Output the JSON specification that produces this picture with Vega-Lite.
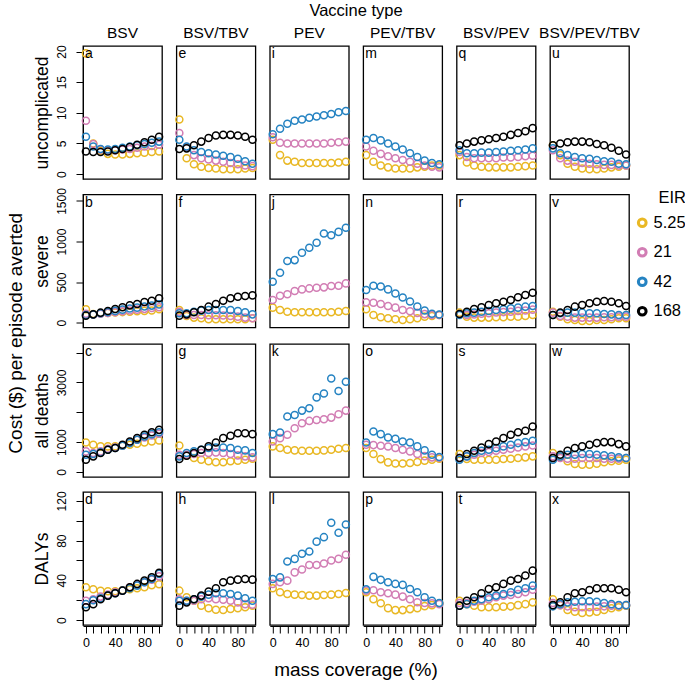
{
"$schema":"https://vega.github.io/schema/vega-lite/v6.json",
"background":"white",
"padding":{"left":6,"top":2,"right":0,"bottom":0},
"title":{"text":"Cost ($) per episode averted","orient":"left","anchor":"middle","fontSize":19,"font":"Liberation Sans","fontWeight":"normal","color":"black","offset":7,"dx":8},
"config":{
 "font":"Liberation Sans",
 "view":{"stroke":"black","strokeWidth":1.3},
 "axis":{"grid":false,"labelFontSize":12,"titleFontSize":17.5,"titleFontWeight":"normal","labelColor":"black","titleColor":"black","tickColor":"black","domainColor":"black","tickSize":7,"labelFont":"Liberation Sans","titleFont":"Liberation Sans","labelOverlap":false,"labelFlush":false},
 "header":{"labelFont":"Liberation Sans","titleFont":"Liberation Sans","labelColor":"black","titleColor":"black"}
},
"datasets":{
"U":[
{"v":1,"t":"a"},{"v":2,"t":"e"},{"v":3,"t":"i"},{"v":4,"t":"m"},{"v":5,"t":"q"},{"v":6,"t":"u"},
{"v":1,"e":5.25,"x":0,"y":19.7},{"v":1,"e":5.25,"x":10,"y":5.0},{"v":1,"e":5.25,"x":20,"y":3.8},{"v":1,"e":5.25,"x":30,"y":3.3},{"v":1,"e":5.25,"x":40,"y":3.2},{"v":1,"e":5.25,"x":50,"y":3.2},{"v":1,"e":5.25,"x":60,"y":3.3},{"v":1,"e":5.25,"x":70,"y":3.4},{"v":1,"e":5.25,"x":80,"y":3.5},{"v":1,"e":5.25,"x":90,"y":3.6},{"v":1,"e":5.25,"x":100,"y":3.7},
{"v":1,"e":21,"x":0,"y":8.7},{"v":1,"e":21,"x":10,"y":4.9},{"v":1,"e":21,"x":20,"y":4.0},{"v":1,"e":21,"x":30,"y":3.9},{"v":1,"e":21,"x":40,"y":3.9},{"v":1,"e":21,"x":50,"y":4.0},{"v":1,"e":21,"x":60,"y":4.1},{"v":1,"e":21,"x":70,"y":4.3},{"v":1,"e":21,"x":80,"y":4.5},{"v":1,"e":21,"x":90,"y":4.6},{"v":1,"e":21,"x":100,"y":4.8},
{"v":1,"e":42,"x":0,"y":6.1},{"v":1,"e":42,"x":10,"y":4.5},{"v":1,"e":42,"x":20,"y":4.1},{"v":1,"e":42,"x":30,"y":4.0},{"v":1,"e":42,"x":40,"y":4.1},{"v":1,"e":42,"x":50,"y":4.3},{"v":1,"e":42,"x":60,"y":4.5},{"v":1,"e":42,"x":70,"y":4.7},{"v":1,"e":42,"x":80,"y":4.9},{"v":1,"e":42,"x":90,"y":5.1},{"v":1,"e":42,"x":100,"y":5.3},
{"v":1,"e":168,"x":0,"y":3.7},{"v":1,"e":168,"x":10,"y":3.6},{"v":1,"e":168,"x":20,"y":3.6},{"v":1,"e":168,"x":30,"y":3.7},{"v":1,"e":168,"x":40,"y":3.9},{"v":1,"e":168,"x":50,"y":4.1},{"v":1,"e":168,"x":60,"y":4.4},{"v":1,"e":168,"x":70,"y":4.8},{"v":1,"e":168,"x":80,"y":5.2},{"v":1,"e":168,"x":90,"y":5.6},{"v":1,"e":168,"x":100,"y":6.1},
{"v":2,"e":5.25,"x":0,"y":8.9},{"v":2,"e":5.25,"x":10,"y":2.6},{"v":2,"e":5.25,"x":20,"y":1.6},{"v":2,"e":5.25,"x":30,"y":1.2},{"v":2,"e":5.25,"x":40,"y":1.0},{"v":2,"e":5.25,"x":50,"y":0.9},{"v":2,"e":5.25,"x":60,"y":0.8},{"v":2,"e":5.25,"x":70,"y":0.8},{"v":2,"e":5.25,"x":80,"y":0.8},{"v":2,"e":5.25,"x":90,"y":0.9},{"v":2,"e":5.25,"x":100,"y":1.0},
{"v":2,"e":21,"x":0,"y":6.7},{"v":2,"e":21,"x":10,"y":4.4},{"v":2,"e":21,"x":20,"y":3.1},{"v":2,"e":21,"x":30,"y":2.6},{"v":2,"e":21,"x":40,"y":2.4},{"v":2,"e":21,"x":50,"y":2.2},{"v":2,"e":21,"x":60,"y":2.0},{"v":2,"e":21,"x":70,"y":1.8},{"v":2,"e":21,"x":80,"y":1.6},{"v":2,"e":21,"x":90,"y":1.4},{"v":2,"e":21,"x":100,"y":1.3},
{"v":2,"e":42,"x":0,"y":5.6},{"v":2,"e":42,"x":10,"y":4.5},{"v":2,"e":42,"x":20,"y":3.9},{"v":2,"e":42,"x":30,"y":3.6},{"v":2,"e":42,"x":40,"y":3.4},{"v":2,"e":42,"x":50,"y":3.2},{"v":2,"e":42,"x":60,"y":3.0},{"v":2,"e":42,"x":70,"y":2.8},{"v":2,"e":42,"x":80,"y":2.5},{"v":2,"e":42,"x":90,"y":2.1},{"v":2,"e":42,"x":100,"y":1.7},
{"v":2,"e":168,"x":0,"y":4.1},{"v":2,"e":168,"x":10,"y":4.2},{"v":2,"e":168,"x":20,"y":4.7},{"v":2,"e":168,"x":30,"y":5.3},{"v":2,"e":168,"x":40,"y":5.9},{"v":2,"e":168,"x":50,"y":6.3},{"v":2,"e":168,"x":60,"y":6.4},{"v":2,"e":168,"x":70,"y":6.4},{"v":2,"e":168,"x":80,"y":6.3},{"v":2,"e":168,"x":90,"y":6.1},{"v":2,"e":168,"x":100,"y":5.6},
{"v":3,"e":5.25,"x":0,"y":5.6},{"v":3,"e":5.25,"x":10,"y":3.1},{"v":3,"e":5.25,"x":20,"y":2.2},{"v":3,"e":5.25,"x":30,"y":2.0},{"v":3,"e":5.25,"x":40,"y":1.8},{"v":3,"e":5.25,"x":50,"y":1.8},{"v":3,"e":5.25,"x":60,"y":1.8},{"v":3,"e":5.25,"x":70,"y":1.8},{"v":3,"e":5.25,"x":80,"y":1.8},{"v":3,"e":5.25,"x":90,"y":1.9},{"v":3,"e":5.25,"x":100,"y":2.0},
{"v":3,"e":21,"x":0,"y":6.0},{"v":3,"e":21,"x":10,"y":5.1},{"v":3,"e":21,"x":20,"y":5.0},{"v":3,"e":21,"x":30,"y":5.0},{"v":3,"e":21,"x":40,"y":5.0},{"v":3,"e":21,"x":50,"y":5.0},{"v":3,"e":21,"x":60,"y":5.0},{"v":3,"e":21,"x":70,"y":5.0},{"v":3,"e":21,"x":80,"y":5.1},{"v":3,"e":21,"x":90,"y":5.2},{"v":3,"e":21,"x":100,"y":5.3},
{"v":3,"e":42,"x":0,"y":6.5},{"v":3,"e":42,"x":10,"y":7.4},{"v":3,"e":42,"x":20,"y":8.2},{"v":3,"e":42,"x":30,"y":8.7},{"v":3,"e":42,"x":40,"y":8.9},{"v":3,"e":42,"x":50,"y":9.2},{"v":3,"e":42,"x":60,"y":9.4},{"v":3,"e":42,"x":70,"y":9.6},{"v":3,"e":42,"x":80,"y":9.8},{"v":3,"e":42,"x":90,"y":10.1},{"v":3,"e":42,"x":100,"y":10.3},
{"v":4,"e":5.25,"x":0,"y":3.1},{"v":4,"e":5.25,"x":10,"y":2.0},{"v":4,"e":5.25,"x":20,"y":1.4},{"v":4,"e":5.25,"x":30,"y":1.1},{"v":4,"e":5.25,"x":40,"y":0.9},{"v":4,"e":5.25,"x":50,"y":0.9},{"v":4,"e":5.25,"x":60,"y":0.9},{"v":4,"e":5.25,"x":70,"y":1.1},{"v":4,"e":5.25,"x":80,"y":1.2},{"v":4,"e":5.25,"x":90,"y":1.4},{"v":4,"e":5.25,"x":100,"y":1.4},
{"v":4,"e":21,"x":0,"y":4.5},{"v":4,"e":21,"x":10,"y":3.8},{"v":4,"e":21,"x":20,"y":3.3},{"v":4,"e":21,"x":30,"y":2.9},{"v":4,"e":21,"x":40,"y":2.6},{"v":4,"e":21,"x":50,"y":2.3},{"v":4,"e":21,"x":60,"y":2.0},{"v":4,"e":21,"x":70,"y":1.7},{"v":4,"e":21,"x":80,"y":1.4},{"v":4,"e":21,"x":90,"y":1.2},{"v":4,"e":21,"x":100,"y":1.1},
{"v":4,"e":42,"x":0,"y":5.6},{"v":4,"e":42,"x":10,"y":5.9},{"v":4,"e":42,"x":20,"y":5.5},{"v":4,"e":42,"x":30,"y":5.0},{"v":4,"e":42,"x":40,"y":4.5},{"v":4,"e":42,"x":50,"y":4.0},{"v":4,"e":42,"x":60,"y":3.4},{"v":4,"e":42,"x":70,"y":2.8},{"v":4,"e":42,"x":80,"y":2.2},{"v":4,"e":42,"x":90,"y":1.8},{"v":4,"e":42,"x":100,"y":1.6},
{"v":5,"e":5.25,"x":0,"y":3.1},{"v":5,"e":5.25,"x":10,"y":1.9},{"v":5,"e":5.25,"x":20,"y":1.4},{"v":5,"e":5.25,"x":30,"y":1.2},{"v":5,"e":5.25,"x":40,"y":1.1},{"v":5,"e":5.25,"x":50,"y":1.1},{"v":5,"e":5.25,"x":60,"y":1.1},{"v":5,"e":5.25,"x":70,"y":1.1},{"v":5,"e":5.25,"x":80,"y":1.2},{"v":5,"e":5.25,"x":90,"y":1.3},{"v":5,"e":5.25,"x":100,"y":1.4},
{"v":5,"e":21,"x":0,"y":3.6},{"v":5,"e":21,"x":10,"y":2.8},{"v":5,"e":21,"x":20,"y":2.6},{"v":5,"e":21,"x":30,"y":2.6},{"v":5,"e":21,"x":40,"y":2.6},{"v":5,"e":21,"x":50,"y":2.6},{"v":5,"e":21,"x":60,"y":2.7},{"v":5,"e":21,"x":70,"y":2.7},{"v":5,"e":21,"x":80,"y":2.8},{"v":5,"e":21,"x":90,"y":2.9},{"v":5,"e":21,"x":100,"y":3.0},
{"v":5,"e":42,"x":0,"y":3.9},{"v":5,"e":42,"x":10,"y":3.4},{"v":5,"e":42,"x":20,"y":3.4},{"v":5,"e":42,"x":30,"y":3.5},{"v":5,"e":42,"x":40,"y":3.5},{"v":5,"e":42,"x":50,"y":3.6},{"v":5,"e":42,"x":60,"y":3.7},{"v":5,"e":42,"x":70,"y":3.8},{"v":5,"e":42,"x":80,"y":3.9},{"v":5,"e":42,"x":90,"y":4.0},{"v":5,"e":42,"x":100,"y":4.2},
{"v":5,"e":168,"x":0,"y":4.7},{"v":5,"e":168,"x":10,"y":5.0},{"v":5,"e":168,"x":20,"y":5.3},{"v":5,"e":168,"x":30,"y":5.5},{"v":5,"e":168,"x":40,"y":5.7},{"v":5,"e":168,"x":50,"y":5.9},{"v":5,"e":168,"x":60,"y":6.1},{"v":5,"e":168,"x":70,"y":6.4},{"v":5,"e":168,"x":80,"y":6.7},{"v":5,"e":168,"x":90,"y":7.0},{"v":5,"e":168,"x":100,"y":7.5},
{"v":6,"e":5.25,"x":0,"y":4.7},{"v":6,"e":5.25,"x":10,"y":3.1},{"v":6,"e":5.25,"x":20,"y":1.7},{"v":6,"e":5.25,"x":30,"y":1.2},{"v":6,"e":5.25,"x":40,"y":0.9},{"v":6,"e":5.25,"x":50,"y":0.8},{"v":6,"e":5.25,"x":60,"y":0.8},{"v":6,"e":5.25,"x":70,"y":0.9},{"v":6,"e":5.25,"x":80,"y":1.1},{"v":6,"e":5.25,"x":90,"y":1.2},{"v":6,"e":5.25,"x":100,"y":1.4},
{"v":6,"e":21,"x":0,"y":3.9},{"v":6,"e":21,"x":10,"y":2.6},{"v":6,"e":21,"x":20,"y":2.2},{"v":6,"e":21,"x":30,"y":2.0},{"v":6,"e":21,"x":40,"y":1.8},{"v":6,"e":21,"x":50,"y":1.7},{"v":6,"e":21,"x":60,"y":1.6},{"v":6,"e":21,"x":70,"y":1.5},{"v":6,"e":21,"x":80,"y":1.5},{"v":6,"e":21,"x":90,"y":1.4},{"v":6,"e":21,"x":100,"y":1.4},
{"v":6,"e":42,"x":0,"y":4.2},{"v":6,"e":42,"x":10,"y":3.4},{"v":6,"e":42,"x":20,"y":3.1},{"v":6,"e":42,"x":30,"y":2.8},{"v":6,"e":42,"x":40,"y":2.6},{"v":6,"e":42,"x":50,"y":2.5},{"v":6,"e":42,"x":60,"y":2.3},{"v":6,"e":42,"x":70,"y":2.1},{"v":6,"e":42,"x":80,"y":2.0},{"v":6,"e":42,"x":90,"y":1.7},{"v":6,"e":42,"x":100,"y":1.6},
{"v":6,"e":168,"x":0,"y":4.7},{"v":6,"e":168,"x":10,"y":5.0},{"v":6,"e":168,"x":20,"y":5.2},{"v":6,"e":168,"x":30,"y":5.3},{"v":6,"e":168,"x":40,"y":5.3},{"v":6,"e":168,"x":50,"y":5.2},{"v":6,"e":168,"x":60,"y":4.9},{"v":6,"e":168,"x":70,"y":4.7},{"v":6,"e":168,"x":80,"y":4.3},{"v":6,"e":168,"x":90,"y":3.8},{"v":6,"e":168,"x":100,"y":3.2}
],
"S":[
{"v":1,"t":"b"},{"v":2,"t":"f"},{"v":3,"t":"j"},{"v":4,"t":"n"},{"v":5,"t":"r"},{"v":6,"t":"v"},
{"v":1,"e":5.25,"x":0,"y":164},{"v":1,"e":5.25,"x":10,"y":107},{"v":1,"e":5.25,"x":20,"y":115},{"v":1,"e":5.25,"x":30,"y":120},{"v":1,"e":5.25,"x":40,"y":125},{"v":1,"e":5.25,"x":50,"y":130},{"v":1,"e":5.25,"x":60,"y":135},{"v":1,"e":5.25,"x":70,"y":140},{"v":1,"e":5.25,"x":80,"y":145},{"v":1,"e":5.25,"x":90,"y":150},{"v":1,"e":5.25,"x":100,"y":164},
{"v":1,"e":21,"x":0,"y":110},{"v":1,"e":21,"x":10,"y":100},{"v":1,"e":21,"x":20,"y":110},{"v":1,"e":21,"x":30,"y":120},{"v":1,"e":21,"x":40,"y":130},{"v":1,"e":21,"x":50,"y":140},{"v":1,"e":21,"x":60,"y":150},{"v":1,"e":21,"x":70,"y":160},{"v":1,"e":21,"x":80,"y":170},{"v":1,"e":21,"x":90,"y":180},{"v":1,"e":21,"x":100,"y":190},
{"v":1,"e":42,"x":0,"y":95},{"v":1,"e":42,"x":10,"y":100},{"v":1,"e":42,"x":20,"y":115},{"v":1,"e":42,"x":30,"y":130},{"v":1,"e":42,"x":40,"y":145},{"v":1,"e":42,"x":50,"y":160},{"v":1,"e":42,"x":60,"y":175},{"v":1,"e":42,"x":70,"y":185},{"v":1,"e":42,"x":80,"y":200},{"v":1,"e":42,"x":90,"y":210},{"v":1,"e":42,"x":100,"y":225},
{"v":1,"e":168,"x":0,"y":86},{"v":1,"e":168,"x":10,"y":102},{"v":1,"e":168,"x":20,"y":123},{"v":1,"e":168,"x":30,"y":143},{"v":1,"e":168,"x":40,"y":168},{"v":1,"e":168,"x":50,"y":189},{"v":1,"e":168,"x":60,"y":213},{"v":1,"e":168,"x":70,"y":230},{"v":1,"e":168,"x":80,"y":254},{"v":1,"e":168,"x":90,"y":270},{"v":1,"e":168,"x":100,"y":300},
{"v":2,"e":5.25,"x":0,"y":156},{"v":2,"e":5.25,"x":10,"y":82},{"v":2,"e":5.25,"x":20,"y":62},{"v":2,"e":5.25,"x":30,"y":53},{"v":2,"e":5.25,"x":40,"y":41},{"v":2,"e":5.25,"x":50,"y":41},{"v":2,"e":5.25,"x":60,"y":41},{"v":2,"e":5.25,"x":70,"y":41},{"v":2,"e":5.25,"x":80,"y":41},{"v":2,"e":5.25,"x":90,"y":41},{"v":2,"e":5.25,"x":100,"y":53},
{"v":2,"e":21,"x":0,"y":135},{"v":2,"e":21,"x":10,"y":94},{"v":2,"e":21,"x":20,"y":94},{"v":2,"e":21,"x":30,"y":94},{"v":2,"e":21,"x":40,"y":90},{"v":2,"e":21,"x":50,"y":90},{"v":2,"e":21,"x":60,"y":88},{"v":2,"e":21,"x":70,"y":82},{"v":2,"e":21,"x":80,"y":74},{"v":2,"e":21,"x":90,"y":62},{"v":2,"e":21,"x":100,"y":53},
{"v":2,"e":42,"x":0,"y":115},{"v":2,"e":42,"x":10,"y":115},{"v":2,"e":42,"x":20,"y":135},{"v":2,"e":42,"x":30,"y":148},{"v":2,"e":42,"x":40,"y":156},{"v":2,"e":42,"x":50,"y":156},{"v":2,"e":42,"x":60,"y":156},{"v":2,"e":42,"x":70,"y":156},{"v":2,"e":42,"x":80,"y":143},{"v":2,"e":42,"x":90,"y":127},{"v":2,"e":42,"x":100,"y":102},
{"v":2,"e":168,"x":0,"y":86},{"v":2,"e":168,"x":10,"y":102},{"v":2,"e":168,"x":20,"y":127},{"v":2,"e":168,"x":30,"y":156},{"v":2,"e":168,"x":40,"y":197},{"v":2,"e":168,"x":50,"y":230},{"v":2,"e":168,"x":60,"y":270},{"v":2,"e":168,"x":70,"y":300},{"v":2,"e":168,"x":80,"y":320},{"v":2,"e":168,"x":90,"y":328},{"v":2,"e":168,"x":100,"y":336},
{"v":3,"e":5.25,"x":0,"y":185},{"v":3,"e":5.25,"x":10,"y":156},{"v":3,"e":5.25,"x":20,"y":135},{"v":3,"e":5.25,"x":30,"y":127},{"v":3,"e":5.25,"x":40,"y":127},{"v":3,"e":5.25,"x":50,"y":127},{"v":3,"e":5.25,"x":60,"y":127},{"v":3,"e":5.25,"x":70,"y":127},{"v":3,"e":5.25,"x":80,"y":127},{"v":3,"e":5.25,"x":90,"y":135},{"v":3,"e":5.25,"x":100,"y":143},
{"v":3,"e":21,"x":0,"y":279},{"v":3,"e":21,"x":10,"y":332},{"v":3,"e":21,"x":20,"y":349},{"v":3,"e":21,"x":30,"y":390},{"v":3,"e":21,"x":40,"y":410},{"v":3,"e":21,"x":50,"y":422},{"v":3,"e":21,"x":60,"y":431},{"v":3,"e":21,"x":70,"y":435},{"v":3,"e":21,"x":80,"y":451},{"v":3,"e":21,"x":90,"y":455},{"v":3,"e":21,"x":100,"y":484},
{"v":3,"e":42,"x":0,"y":504},{"v":3,"e":42,"x":10,"y":615},{"v":3,"e":42,"x":20,"y":759},{"v":3,"e":42,"x":30,"y":771},{"v":3,"e":42,"x":40,"y":861},{"v":3,"e":42,"x":50,"y":923},{"v":3,"e":42,"x":60,"y":984},{"v":3,"e":42,"x":70,"y":1099},{"v":3,"e":42,"x":80,"y":1078},{"v":3,"e":42,"x":90,"y":1119},{"v":3,"e":42,"x":100,"y":1169},
{"v":4,"e":5.25,"x":0,"y":164},{"v":4,"e":5.25,"x":10,"y":94},{"v":4,"e":5.25,"x":20,"y":66},{"v":4,"e":5.25,"x":30,"y":53},{"v":4,"e":5.25,"x":40,"y":41},{"v":4,"e":5.25,"x":50,"y":33},{"v":4,"e":5.25,"x":60,"y":41},{"v":4,"e":5.25,"x":70,"y":53},{"v":4,"e":5.25,"x":80,"y":74},{"v":4,"e":5.25,"x":90,"y":82},{"v":4,"e":5.25,"x":100,"y":94},
{"v":4,"e":21,"x":0,"y":250},{"v":4,"e":21,"x":10,"y":246},{"v":4,"e":21,"x":20,"y":230},{"v":4,"e":21,"x":30,"y":205},{"v":4,"e":21,"x":40,"y":185},{"v":4,"e":21,"x":50,"y":156},{"v":4,"e":21,"x":60,"y":140},{"v":4,"e":21,"x":70,"y":120},{"v":4,"e":21,"x":80,"y":105},{"v":4,"e":21,"x":90,"y":94},{"v":4,"e":21,"x":100,"y":94},
{"v":4,"e":42,"x":0,"y":402},{"v":4,"e":42,"x":10,"y":455},{"v":4,"e":42,"x":20,"y":445},{"v":4,"e":42,"x":30,"y":410},{"v":4,"e":42,"x":40,"y":360},{"v":4,"e":42,"x":50,"y":310},{"v":4,"e":42,"x":60,"y":260},{"v":4,"e":42,"x":70,"y":200},{"v":4,"e":42,"x":80,"y":150},{"v":4,"e":42,"x":90,"y":110},{"v":4,"e":42,"x":100,"y":100},
{"v":5,"e":5.25,"x":0,"y":123},{"v":5,"e":5.25,"x":10,"y":74},{"v":5,"e":5.25,"x":20,"y":62},{"v":5,"e":5.25,"x":30,"y":62},{"v":5,"e":5.25,"x":40,"y":62},{"v":5,"e":5.25,"x":50,"y":66},{"v":5,"e":5.25,"x":60,"y":66},{"v":5,"e":5.25,"x":70,"y":74},{"v":5,"e":5.25,"x":80,"y":74},{"v":5,"e":5.25,"x":90,"y":82},{"v":5,"e":5.25,"x":100,"y":94},
{"v":5,"e":21,"x":0,"y":107},{"v":5,"e":21,"x":10,"y":94},{"v":5,"e":21,"x":20,"y":100},{"v":5,"e":21,"x":30,"y":110},{"v":5,"e":21,"x":40,"y":115},{"v":5,"e":21,"x":50,"y":125},{"v":5,"e":21,"x":60,"y":130},{"v":5,"e":21,"x":70,"y":135},{"v":5,"e":21,"x":80,"y":145},{"v":5,"e":21,"x":90,"y":150},{"v":5,"e":21,"x":100,"y":160},
{"v":5,"e":42,"x":0,"y":94},{"v":5,"e":42,"x":10,"y":115},{"v":5,"e":42,"x":20,"y":123},{"v":5,"e":42,"x":30,"y":135},{"v":5,"e":42,"x":40,"y":143},{"v":5,"e":42,"x":50,"y":156},{"v":5,"e":42,"x":60,"y":164},{"v":5,"e":42,"x":70,"y":176},{"v":5,"e":42,"x":80,"y":185},{"v":5,"e":42,"x":90,"y":197},{"v":5,"e":42,"x":100,"y":205},
{"v":5,"e":168,"x":0,"y":107},{"v":5,"e":168,"x":10,"y":135},{"v":5,"e":168,"x":20,"y":168},{"v":5,"e":168,"x":30,"y":189},{"v":5,"e":168,"x":40,"y":217},{"v":5,"e":168,"x":50,"y":238},{"v":5,"e":168,"x":60,"y":258},{"v":5,"e":168,"x":70,"y":279},{"v":5,"e":168,"x":80,"y":312},{"v":5,"e":168,"x":90,"y":340},{"v":5,"e":168,"x":100,"y":369},
{"v":6,"e":5.25,"x":0,"y":135},{"v":6,"e":5.25,"x":10,"y":74},{"v":6,"e":5.25,"x":20,"y":41},{"v":6,"e":5.25,"x":30,"y":33},{"v":6,"e":5.25,"x":40,"y":20},{"v":6,"e":5.25,"x":50,"y":20},{"v":6,"e":5.25,"x":60,"y":33},{"v":6,"e":5.25,"x":70,"y":33},{"v":6,"e":5.25,"x":80,"y":41},{"v":6,"e":5.25,"x":90,"y":53},{"v":6,"e":5.25,"x":100,"y":53},
{"v":6,"e":21,"x":0,"y":123},{"v":6,"e":21,"x":10,"y":82},{"v":6,"e":21,"x":20,"y":74},{"v":6,"e":21,"x":30,"y":62},{"v":6,"e":21,"x":40,"y":62},{"v":6,"e":21,"x":50,"y":62},{"v":6,"e":21,"x":60,"y":62},{"v":6,"e":21,"x":70,"y":66},{"v":6,"e":21,"x":80,"y":66},{"v":6,"e":21,"x":90,"y":74},{"v":6,"e":21,"x":100,"y":74},
{"v":6,"e":42,"x":0,"y":94},{"v":6,"e":42,"x":10,"y":115},{"v":6,"e":42,"x":20,"y":123},{"v":6,"e":42,"x":30,"y":123},{"v":6,"e":42,"x":40,"y":123},{"v":6,"e":42,"x":50,"y":115},{"v":6,"e":42,"x":60,"y":115},{"v":6,"e":42,"x":70,"y":107},{"v":6,"e":42,"x":80,"y":102},{"v":6,"e":42,"x":90,"y":94},{"v":6,"e":42,"x":100,"y":94},
{"v":6,"e":168,"x":0,"y":94},{"v":6,"e":168,"x":10,"y":123},{"v":6,"e":168,"x":20,"y":156},{"v":6,"e":168,"x":30,"y":197},{"v":6,"e":168,"x":40,"y":217},{"v":6,"e":168,"x":50,"y":238},{"v":6,"e":168,"x":60,"y":258},{"v":6,"e":168,"x":70,"y":267},{"v":6,"e":168,"x":80,"y":258},{"v":6,"e":168,"x":90,"y":238},{"v":6,"e":168,"x":100,"y":205}
],
"D":[
{"v":1,"t":"c"},{"v":2,"t":"g"},{"v":3,"t":"k"},{"v":4,"t":"o"},{"v":5,"t":"s"},{"v":6,"t":"w"},
{"v":1,"e":5.25,"x":0,"y":989},{"v":1,"e":5.25,"x":10,"y":911},{"v":1,"e":5.25,"x":20,"y":856},{"v":1,"e":5.25,"x":30,"y":856},{"v":1,"e":5.25,"x":40,"y":856},{"v":1,"e":5.25,"x":50,"y":878},{"v":1,"e":5.25,"x":60,"y":911},{"v":1,"e":5.25,"x":70,"y":944},{"v":1,"e":5.25,"x":80,"y":989},{"v":1,"e":5.25,"x":90,"y":1022},{"v":1,"e":5.25,"x":100,"y":1056},
{"v":1,"e":21,"x":0,"y":689},{"v":1,"e":21,"x":10,"y":633},{"v":1,"e":21,"x":20,"y":689},{"v":1,"e":21,"x":30,"y":778},{"v":1,"e":21,"x":40,"y":822},{"v":1,"e":21,"x":50,"y":889},{"v":1,"e":21,"x":60,"y":989},{"v":1,"e":21,"x":70,"y":1078},{"v":1,"e":21,"x":80,"y":1156},{"v":1,"e":21,"x":90,"y":1222},{"v":1,"e":21,"x":100,"y":1278},
{"v":1,"e":42,"x":0,"y":578},{"v":1,"e":42,"x":10,"y":600},{"v":1,"e":42,"x":20,"y":655},{"v":1,"e":42,"x":30,"y":744},{"v":1,"e":42,"x":40,"y":800},{"v":1,"e":42,"x":50,"y":878},{"v":1,"e":42,"x":60,"y":967},{"v":1,"e":42,"x":70,"y":1078},{"v":1,"e":42,"x":80,"y":1189},{"v":1,"e":42,"x":90,"y":1267},{"v":1,"e":42,"x":100,"y":1333},
{"v":1,"e":168,"x":0,"y":411},{"v":1,"e":168,"x":10,"y":522},{"v":1,"e":168,"x":20,"y":633},{"v":1,"e":168,"x":30,"y":744},{"v":1,"e":168,"x":40,"y":800},{"v":1,"e":168,"x":50,"y":911},{"v":1,"e":168,"x":60,"y":1022},{"v":1,"e":168,"x":70,"y":1133},{"v":1,"e":168,"x":80,"y":1244},{"v":1,"e":168,"x":90,"y":1333},{"v":1,"e":168,"x":100,"y":1411},
{"v":2,"e":5.25,"x":0,"y":889},{"v":2,"e":5.25,"x":10,"y":556},{"v":2,"e":5.25,"x":20,"y":467},{"v":2,"e":5.25,"x":30,"y":411},{"v":2,"e":5.25,"x":40,"y":356},{"v":2,"e":5.25,"x":50,"y":322},{"v":2,"e":5.25,"x":60,"y":322},{"v":2,"e":5.25,"x":70,"y":356},{"v":2,"e":5.25,"x":80,"y":378},{"v":2,"e":5.25,"x":90,"y":411},{"v":2,"e":5.25,"x":100,"y":444},
{"v":2,"e":21,"x":0,"y":578},{"v":2,"e":21,"x":10,"y":578},{"v":2,"e":21,"x":20,"y":600},{"v":2,"e":21,"x":30,"y":633},{"v":2,"e":21,"x":40,"y":633},{"v":2,"e":21,"x":50,"y":655},{"v":2,"e":21,"x":60,"y":633},{"v":2,"e":21,"x":70,"y":600},{"v":2,"e":21,"x":80,"y":556},{"v":2,"e":21,"x":90,"y":522},{"v":2,"e":21,"x":100,"y":489},
{"v":2,"e":42,"x":0,"y":522},{"v":2,"e":42,"x":10,"y":633},{"v":2,"e":42,"x":20,"y":689},{"v":2,"e":42,"x":30,"y":744},{"v":2,"e":42,"x":40,"y":800},{"v":2,"e":42,"x":50,"y":822},{"v":2,"e":42,"x":60,"y":822},{"v":2,"e":42,"x":70,"y":800},{"v":2,"e":42,"x":80,"y":744},{"v":2,"e":42,"x":90,"y":722},{"v":2,"e":42,"x":100,"y":633},
{"v":2,"e":168,"x":0,"y":433},{"v":2,"e":168,"x":10,"y":544},{"v":2,"e":168,"x":20,"y":633},{"v":2,"e":168,"x":30,"y":744},{"v":2,"e":168,"x":40,"y":856},{"v":2,"e":168,"x":50,"y":989},{"v":2,"e":168,"x":60,"y":1133},{"v":2,"e":168,"x":70,"y":1211},{"v":2,"e":168,"x":80,"y":1300},{"v":2,"e":168,"x":90,"y":1300},{"v":2,"e":168,"x":100,"y":1267},
{"v":3,"e":5.25,"x":0,"y":856},{"v":3,"e":5.25,"x":10,"y":800},{"v":3,"e":5.25,"x":20,"y":744},{"v":3,"e":5.25,"x":30,"y":722},{"v":3,"e":5.25,"x":40,"y":711},{"v":3,"e":5.25,"x":50,"y":711},{"v":3,"e":5.25,"x":60,"y":711},{"v":3,"e":5.25,"x":70,"y":722},{"v":3,"e":5.25,"x":80,"y":744},{"v":3,"e":5.25,"x":90,"y":778},{"v":3,"e":5.25,"x":100,"y":800},
{"v":3,"e":21,"x":0,"y":1022},{"v":3,"e":21,"x":10,"y":1133},{"v":3,"e":21,"x":20,"y":1244},{"v":3,"e":21,"x":30,"y":1467},{"v":3,"e":21,"x":40,"y":1633},{"v":3,"e":21,"x":50,"y":1711},{"v":3,"e":21,"x":60,"y":1744},{"v":3,"e":21,"x":70,"y":1767},{"v":3,"e":21,"x":80,"y":1822},{"v":3,"e":21,"x":90,"y":1933},{"v":3,"e":21,"x":100,"y":2056},
{"v":3,"e":42,"x":0,"y":1267},{"v":3,"e":42,"x":10,"y":1322},{"v":3,"e":42,"x":20,"y":1856},{"v":3,"e":42,"x":30,"y":1911},{"v":3,"e":42,"x":40,"y":2056},{"v":3,"e":42,"x":50,"y":2133},{"v":3,"e":42,"x":60,"y":2500},{"v":3,"e":42,"x":70,"y":2633},{"v":3,"e":42,"x":80,"y":3133},{"v":3,"e":42,"x":90,"y":2711},{"v":3,"e":42,"x":100,"y":3022},
{"v":4,"e":5.25,"x":0,"y":800},{"v":4,"e":5.25,"x":10,"y":600},{"v":4,"e":5.25,"x":20,"y":430},{"v":4,"e":5.25,"x":30,"y":320},{"v":4,"e":5.25,"x":40,"y":280},{"v":4,"e":5.25,"x":50,"y":280},{"v":4,"e":5.25,"x":60,"y":300},{"v":4,"e":5.25,"x":70,"y":333},{"v":4,"e":5.25,"x":80,"y":378},{"v":4,"e":5.25,"x":90,"y":411},{"v":4,"e":5.25,"x":100,"y":444},
{"v":4,"e":21,"x":0,"y":911},{"v":4,"e":21,"x":10,"y":900},{"v":4,"e":21,"x":20,"y":880},{"v":4,"e":21,"x":30,"y":850},{"v":4,"e":21,"x":40,"y":800},{"v":4,"e":21,"x":50,"y":744},{"v":4,"e":21,"x":60,"y":689},{"v":4,"e":21,"x":70,"y":600},{"v":4,"e":21,"x":80,"y":530},{"v":4,"e":21,"x":90,"y":489},{"v":4,"e":21,"x":100,"y":480},
{"v":4,"e":42,"x":0,"y":989},{"v":4,"e":42,"x":10,"y":1356},{"v":4,"e":42,"x":20,"y":1267},{"v":4,"e":42,"x":30,"y":1156},{"v":4,"e":42,"x":40,"y":1111},{"v":4,"e":42,"x":50,"y":1022},{"v":4,"e":42,"x":60,"y":989},{"v":4,"e":42,"x":70,"y":856},{"v":4,"e":42,"x":80,"y":722},{"v":4,"e":42,"x":90,"y":578},{"v":4,"e":42,"x":100,"y":500},
{"v":5,"e":5.25,"x":0,"y":600},{"v":5,"e":5.25,"x":10,"y":433},{"v":5,"e":5.25,"x":20,"y":411},{"v":5,"e":5.25,"x":30,"y":411},{"v":5,"e":5.25,"x":40,"y":411},{"v":5,"e":5.25,"x":50,"y":411},{"v":5,"e":5.25,"x":60,"y":433},{"v":5,"e":5.25,"x":70,"y":444},{"v":5,"e":5.25,"x":80,"y":467},{"v":5,"e":5.25,"x":90,"y":489},{"v":5,"e":5.25,"x":100,"y":522},
{"v":5,"e":21,"x":0,"y":467},{"v":5,"e":21,"x":10,"y":522},{"v":5,"e":21,"x":20,"y":578},{"v":5,"e":21,"x":30,"y":633},{"v":5,"e":21,"x":40,"y":667},{"v":5,"e":21,"x":50,"y":711},{"v":5,"e":21,"x":60,"y":744},{"v":5,"e":21,"x":70,"y":778},{"v":5,"e":21,"x":80,"y":822},{"v":5,"e":21,"x":90,"y":856},{"v":5,"e":21,"x":100,"y":889},
{"v":5,"e":42,"x":0,"y":411},{"v":5,"e":42,"x":10,"y":522},{"v":5,"e":42,"x":20,"y":633},{"v":5,"e":42,"x":30,"y":711},{"v":5,"e":42,"x":40,"y":744},{"v":5,"e":42,"x":50,"y":800},{"v":5,"e":42,"x":60,"y":856},{"v":5,"e":42,"x":70,"y":911},{"v":5,"e":42,"x":80,"y":967},{"v":5,"e":42,"x":90,"y":1000},{"v":5,"e":42,"x":100,"y":1044},
{"v":5,"e":168,"x":0,"y":467},{"v":5,"e":168,"x":10,"y":600},{"v":5,"e":168,"x":20,"y":711},{"v":5,"e":168,"x":30,"y":822},{"v":5,"e":168,"x":40,"y":933},{"v":5,"e":168,"x":50,"y":1022},{"v":5,"e":168,"x":60,"y":1133},{"v":5,"e":168,"x":70,"y":1244},{"v":5,"e":168,"x":80,"y":1333},{"v":5,"e":168,"x":90,"y":1378},{"v":5,"e":168,"x":100,"y":1522},
{"v":6,"e":5.25,"x":0,"y":633},{"v":6,"e":5.25,"x":10,"y":489},{"v":6,"e":5.25,"x":20,"y":356},{"v":6,"e":5.25,"x":30,"y":267},{"v":6,"e":5.25,"x":40,"y":244},{"v":6,"e":5.25,"x":50,"y":244},{"v":6,"e":5.25,"x":60,"y":278},{"v":6,"e":5.25,"x":70,"y":322},{"v":6,"e":5.25,"x":80,"y":356},{"v":6,"e":5.25,"x":90,"y":378},{"v":6,"e":5.25,"x":100,"y":411},
{"v":6,"e":21,"x":0,"y":522},{"v":6,"e":21,"x":10,"y":467},{"v":6,"e":21,"x":20,"y":444},{"v":6,"e":21,"x":30,"y":444},{"v":6,"e":21,"x":40,"y":467},{"v":6,"e":21,"x":50,"y":467},{"v":6,"e":21,"x":60,"y":467},{"v":6,"e":21,"x":70,"y":444},{"v":6,"e":21,"x":80,"y":444},{"v":6,"e":21,"x":90,"y":444},{"v":6,"e":21,"x":100,"y":467},
{"v":6,"e":42,"x":0,"y":411},{"v":6,"e":42,"x":10,"y":522},{"v":6,"e":42,"x":20,"y":578},{"v":6,"e":42,"x":30,"y":578},{"v":6,"e":42,"x":40,"y":600},{"v":6,"e":42,"x":50,"y":600},{"v":6,"e":42,"x":60,"y":578},{"v":6,"e":42,"x":70,"y":556},{"v":6,"e":42,"x":80,"y":522},{"v":6,"e":42,"x":90,"y":489},{"v":6,"e":42,"x":100,"y":467},
{"v":6,"e":168,"x":0,"y":467},{"v":6,"e":168,"x":10,"y":578},{"v":6,"e":168,"x":20,"y":711},{"v":6,"e":168,"x":30,"y":800},{"v":6,"e":168,"x":40,"y":856},{"v":6,"e":168,"x":50,"y":911},{"v":6,"e":168,"x":60,"y":967},{"v":6,"e":168,"x":70,"y":1000},{"v":6,"e":168,"x":80,"y":1000},{"v":6,"e":168,"x":90,"y":933},{"v":6,"e":168,"x":100,"y":856}
],
"L":[
{"v":1,"t":"d"},{"v":2,"t":"h"},{"v":3,"t":"l"},{"v":4,"t":"p"},{"v":5,"t":"t"},{"v":6,"t":"x"},
{"v":1,"e":5.25,"x":0,"y":33},{"v":1,"e":5.25,"x":10,"y":31},{"v":1,"e":5.25,"x":20,"y":29.5},{"v":1,"e":5.25,"x":30,"y":29},{"v":1,"e":5.25,"x":40,"y":29},{"v":1,"e":5.25,"x":50,"y":30},{"v":1,"e":5.25,"x":60,"y":31},{"v":1,"e":5.25,"x":70,"y":32},{"v":1,"e":5.25,"x":80,"y":33},{"v":1,"e":5.25,"x":90,"y":35},{"v":1,"e":5.25,"x":100,"y":36},
{"v":1,"e":21,"x":0,"y":19.5},{"v":1,"e":21,"x":10,"y":21},{"v":1,"e":21,"x":20,"y":23.6},{"v":1,"e":21,"x":30,"y":25.6},{"v":1,"e":21,"x":40,"y":28},{"v":1,"e":21,"x":50,"y":29.6},{"v":1,"e":21,"x":60,"y":33},{"v":1,"e":21,"x":70,"y":35.4},{"v":1,"e":21,"x":80,"y":38},{"v":1,"e":21,"x":90,"y":40.7},{"v":1,"e":21,"x":100,"y":44},
{"v":1,"e":42,"x":0,"y":16},{"v":1,"e":42,"x":10,"y":20},{"v":1,"e":42,"x":20,"y":22},{"v":1,"e":42,"x":30,"y":24.6},{"v":1,"e":42,"x":40,"y":27},{"v":1,"e":42,"x":50,"y":29.6},{"v":1,"e":42,"x":60,"y":32},{"v":1,"e":42,"x":70,"y":34.7},{"v":1,"e":42,"x":80,"y":38},{"v":1,"e":42,"x":90,"y":41.4},{"v":1,"e":42,"x":100,"y":46.5},
{"v":1,"e":168,"x":0,"y":12.8},{"v":1,"e":168,"x":10,"y":16},{"v":1,"e":168,"x":20,"y":21},{"v":1,"e":168,"x":30,"y":24.6},{"v":1,"e":168,"x":40,"y":27},{"v":1,"e":168,"x":50,"y":29.6},{"v":1,"e":168,"x":60,"y":33},{"v":1,"e":168,"x":70,"y":36.4},{"v":1,"e":168,"x":80,"y":39.7},{"v":1,"e":168,"x":90,"y":43},{"v":1,"e":168,"x":100,"y":47.5},
{"v":2,"e":5.25,"x":0,"y":29.6},{"v":2,"e":5.25,"x":10,"y":23},{"v":2,"e":5.25,"x":20,"y":19.5},{"v":2,"e":5.25,"x":30,"y":14.5},{"v":2,"e":5.25,"x":40,"y":11.8},{"v":2,"e":5.25,"x":50,"y":10.4},{"v":2,"e":5.25,"x":60,"y":10.1},{"v":2,"e":5.25,"x":70,"y":11.1},{"v":2,"e":5.25,"x":80,"y":11.8},{"v":2,"e":5.25,"x":90,"y":12.8},{"v":2,"e":5.25,"x":100,"y":14.5},
{"v":2,"e":21,"x":0,"y":21},{"v":2,"e":21,"x":10,"y":19.5},{"v":2,"e":21,"x":20,"y":19.5},{"v":2,"e":21,"x":30,"y":21},{"v":2,"e":21,"x":40,"y":22},{"v":2,"e":21,"x":50,"y":21},{"v":2,"e":21,"x":60,"y":20.5},{"v":2,"e":21,"x":70,"y":19.5},{"v":2,"e":21,"x":80,"y":17.8},{"v":2,"e":21,"x":90,"y":16},{"v":2,"e":21,"x":100,"y":15.5},
{"v":2,"e":42,"x":0,"y":19.5},{"v":2,"e":42,"x":10,"y":19.5},{"v":2,"e":42,"x":20,"y":21},{"v":2,"e":42,"x":30,"y":23.6},{"v":2,"e":42,"x":40,"y":25.6},{"v":2,"e":42,"x":50,"y":27},{"v":2,"e":42,"x":60,"y":27},{"v":2,"e":42,"x":70,"y":26.3},{"v":2,"e":42,"x":80,"y":24.6},{"v":2,"e":42,"x":90,"y":22},{"v":2,"e":42,"x":100,"y":19.5},
{"v":2,"e":168,"x":0,"y":14.5},{"v":2,"e":168,"x":10,"y":17.8},{"v":2,"e":168,"x":20,"y":21},{"v":2,"e":168,"x":30,"y":24.6},{"v":2,"e":168,"x":40,"y":28.6},{"v":2,"e":168,"x":50,"y":32},{"v":2,"e":168,"x":60,"y":38},{"v":2,"e":168,"x":70,"y":39.7},{"v":2,"e":168,"x":80,"y":40.7},{"v":2,"e":168,"x":90,"y":41.4},{"v":2,"e":168,"x":100,"y":40.7},
{"v":3,"e":5.25,"x":0,"y":32},{"v":3,"e":5.25,"x":10,"y":28},{"v":3,"e":5.25,"x":20,"y":26.3},{"v":3,"e":5.25,"x":30,"y":25.6},{"v":3,"e":5.25,"x":40,"y":25.3},{"v":3,"e":5.25,"x":50,"y":24.6},{"v":3,"e":5.25,"x":60,"y":24.6},{"v":3,"e":5.25,"x":70,"y":25.3},{"v":3,"e":5.25,"x":80,"y":25.6},{"v":3,"e":5.25,"x":90,"y":26.3},{"v":3,"e":5.25,"x":100,"y":27.3},
{"v":3,"e":21,"x":0,"y":36.4},{"v":3,"e":21,"x":10,"y":38},{"v":3,"e":21,"x":20,"y":39.7},{"v":3,"e":21,"x":30,"y":48},{"v":3,"e":21,"x":40,"y":51},{"v":3,"e":21,"x":50,"y":55.5},{"v":3,"e":21,"x":60,"y":55.5},{"v":3,"e":21,"x":70,"y":57},{"v":3,"e":21,"x":80,"y":60},{"v":3,"e":21,"x":90,"y":61.6},{"v":3,"e":21,"x":100,"y":65.7},
{"v":3,"e":42,"x":0,"y":41.4},{"v":3,"e":42,"x":10,"y":43},{"v":3,"e":42,"x":20,"y":59},{"v":3,"e":42,"x":30,"y":61.6},{"v":3,"e":42,"x":40,"y":66.7},{"v":3,"e":42,"x":50,"y":69},{"v":3,"e":42,"x":60,"y":79},{"v":3,"e":42,"x":70,"y":83.5},{"v":3,"e":42,"x":80,"y":98},{"v":3,"e":42,"x":90,"y":88},{"v":3,"e":42,"x":100,"y":96.3},
{"v":4,"e":5.25,"x":0,"y":28},{"v":4,"e":5.25,"x":10,"y":21},{"v":4,"e":5.25,"x":20,"y":17},{"v":4,"e":5.25,"x":30,"y":12},{"v":4,"e":5.25,"x":40,"y":10},{"v":4,"e":5.25,"x":50,"y":10},{"v":4,"e":5.25,"x":60,"y":11},{"v":4,"e":5.25,"x":70,"y":12},{"v":4,"e":5.25,"x":80,"y":14},{"v":4,"e":5.25,"x":90,"y":15},{"v":4,"e":5.25,"x":100,"y":16.8},
{"v":4,"e":21,"x":0,"y":29.6},{"v":4,"e":21,"x":10,"y":30},{"v":4,"e":21,"x":20,"y":28},{"v":4,"e":21,"x":30,"y":27},{"v":4,"e":21,"x":40,"y":25.6},{"v":4,"e":21,"x":50,"y":23.6},{"v":4,"e":21,"x":60,"y":21},{"v":4,"e":21,"x":70,"y":18},{"v":4,"e":21,"x":80,"y":17.2},{"v":4,"e":21,"x":90,"y":16.8},{"v":4,"e":21,"x":100,"y":16},
{"v":4,"e":42,"x":0,"y":31},{"v":4,"e":42,"x":10,"y":43.5},{"v":4,"e":42,"x":20,"y":40.5},{"v":4,"e":42,"x":30,"y":38},{"v":4,"e":42,"x":40,"y":36.4},{"v":4,"e":42,"x":50,"y":35.4},{"v":4,"e":42,"x":60,"y":31.3},{"v":4,"e":42,"x":70,"y":28},{"v":4,"e":42,"x":80,"y":23},{"v":4,"e":42,"x":90,"y":19.5},{"v":4,"e":42,"x":100,"y":17.2},
{"v":5,"e":5.25,"x":0,"y":19.5},{"v":5,"e":5.25,"x":10,"y":16},{"v":5,"e":5.25,"x":20,"y":14.5},{"v":5,"e":5.25,"x":30,"y":12.8},{"v":5,"e":5.25,"x":40,"y":12.8},{"v":5,"e":5.25,"x":50,"y":12.8},{"v":5,"e":5.25,"x":60,"y":13.5},{"v":5,"e":5.25,"x":70,"y":13.8},{"v":5,"e":5.25,"x":80,"y":15},{"v":5,"e":5.25,"x":90,"y":16},{"v":5,"e":5.25,"x":100,"y":17.8},
{"v":5,"e":21,"x":0,"y":17.2},{"v":5,"e":21,"x":10,"y":17.2},{"v":5,"e":21,"x":20,"y":18.5},{"v":5,"e":21,"x":30,"y":19.5},{"v":5,"e":21,"x":40,"y":21},{"v":5,"e":21,"x":50,"y":23},{"v":5,"e":21,"x":60,"y":24.6},{"v":5,"e":21,"x":70,"y":25.3},{"v":5,"e":21,"x":80,"y":26.3},{"v":5,"e":21,"x":90,"y":28},{"v":5,"e":21,"x":100,"y":30.6},
{"v":5,"e":42,"x":0,"y":14.5},{"v":5,"e":42,"x":10,"y":16},{"v":5,"e":42,"x":20,"y":19.5},{"v":5,"e":42,"x":30,"y":21},{"v":5,"e":42,"x":40,"y":23},{"v":5,"e":42,"x":50,"y":24.6},{"v":5,"e":42,"x":60,"y":26.3},{"v":5,"e":42,"x":70,"y":28},{"v":5,"e":42,"x":80,"y":30.6},{"v":5,"e":42,"x":90,"y":32},{"v":5,"e":42,"x":100,"y":34.7},
{"v":5,"e":168,"x":0,"y":14.5},{"v":5,"e":168,"x":10,"y":19.5},{"v":5,"e":168,"x":20,"y":23},{"v":5,"e":168,"x":30,"y":27},{"v":5,"e":168,"x":40,"y":31.3},{"v":5,"e":168,"x":50,"y":33},{"v":5,"e":168,"x":60,"y":36.4},{"v":5,"e":168,"x":70,"y":39.7},{"v":5,"e":168,"x":80,"y":41.4},{"v":5,"e":168,"x":90,"y":44.8},{"v":5,"e":168,"x":100,"y":49.8},
{"v":6,"e":5.25,"x":0,"y":21},{"v":6,"e":5.25,"x":10,"y":15},{"v":6,"e":5.25,"x":20,"y":10.1},{"v":6,"e":5.25,"x":30,"y":8.4},{"v":6,"e":5.25,"x":40,"y":7.1},{"v":6,"e":5.25,"x":50,"y":7.7},{"v":6,"e":5.25,"x":60,"y":8.4},{"v":6,"e":5.25,"x":70,"y":10.1},{"v":6,"e":5.25,"x":80,"y":11.8},{"v":6,"e":5.25,"x":90,"y":12.8},{"v":6,"e":5.25,"x":100,"y":14.5},
{"v":6,"e":21,"x":0,"y":17.2},{"v":6,"e":21,"x":10,"y":15},{"v":6,"e":21,"x":20,"y":13.8},{"v":6,"e":21,"x":30,"y":12.8},{"v":6,"e":21,"x":40,"y":12.8},{"v":6,"e":21,"x":50,"y":12.8},{"v":6,"e":21,"x":60,"y":13.5},{"v":6,"e":21,"x":70,"y":13.8},{"v":6,"e":21,"x":80,"y":14.5},{"v":6,"e":21,"x":90,"y":14.5},{"v":6,"e":21,"x":100,"y":15},
{"v":6,"e":42,"x":0,"y":13.8},{"v":6,"e":42,"x":10,"y":16},{"v":6,"e":42,"x":20,"y":17.8},{"v":6,"e":42,"x":30,"y":18.5},{"v":6,"e":42,"x":40,"y":18.9},{"v":6,"e":42,"x":50,"y":18.9},{"v":6,"e":42,"x":60,"y":18.5},{"v":6,"e":42,"x":70,"y":17.2},{"v":6,"e":42,"x":80,"y":16},{"v":6,"e":42,"x":90,"y":15},{"v":6,"e":42,"x":100,"y":15},
{"v":6,"e":168,"x":0,"y":15},{"v":6,"e":168,"x":10,"y":17.8},{"v":6,"e":168,"x":20,"y":23},{"v":6,"e":168,"x":30,"y":27},{"v":6,"e":168,"x":40,"y":28},{"v":6,"e":168,"x":50,"y":30.3},{"v":6,"e":168,"x":60,"y":32},{"v":6,"e":168,"x":70,"y":32},{"v":6,"e":168,"x":80,"y":32},{"v":6,"e":168,"x":90,"y":30.6},{"v":6,"e":168,"x":100,"y":28}
]
},
"spacing":14,
"vconcat":[
{"spacing":7.5,"vconcat":[
{
 "data":{"name":"U"},
 "bounds":"flush",
 "facet":{"column":{"field":"v","type":"ordinal","header":{"title":"Vaccine type","titleFontSize":16.5,"titleFontWeight":"normal","titlePadding":-4,"labelFontSize":15.5,"labelPadding":5,"labelExpr":"['BSV','BSV/TBV','PEV','PEV/TBV','BSV/PEV','BSV/PEV/TBV'][datum.value-1]"}}},
 "spacing":14.4,
 "spec":{"width":79,"height":133,
  "encoding":{
   "x":{"type":"quantitative","scale":{"domain":[-4,104],"nice":false,"zero":false},"axis":null},
   "y":{"type":"quantitative","scale":{"domain":[-0.8,20.9],"nice":false,"zero":false},"axis":{"title":"uncomplicated","values":[0,5,10,15,20],"format":"d","labelAngle":-90,"labelAlign":"center","labelBaseline":"bottom","labelPadding":8,"titlePadding":4}}
  },
  "layer":[
   {"transform":[{"filter":"isValid(datum.y)"}],
    "mark":{"type":"point","shape":"circle","filled":false,"size":50,"strokeWidth":1.5,"opacity":1},
    "encoding":{
     "x":{"field":"x","type":"quantitative"},
     "y":{"field":"y","type":"quantitative"},
     "color":{"field":"e","type":"nominal","scale":{"domain":[5.25,21,42,168],"range":["#E9B824","#D27DB4","#2583C2","#000000"]},"legend":{"title":"EIR","orient":"none","legendX":551,"legendY":144,"symbolType":"circle","symbolStrokeWidth":3,"symbolSize":60,"labelOffset":3,"labelFontSize":16.5,"titleFontSize":16.5,"titleFontWeight":"normal","rowPadding":8.5,"titleAnchor":"end","labelColor":"black","titleColor":"black","titlePadding":8,"padding":0}}
    }},
   {"transform":[{"filter":"isValid(datum.t)"}],
    "mark":{"type":"text","align":"left","baseline":"top","dx":2,"dy":1,"fontSize":14,"color":"black"},
    "encoding":{
     "x":{"datum":-4,"type":"quantitative"},
     "y":{"datum":20.9,"type":"quantitative"},
     "text":{"field":"t"}
    }}
  ]}
},
{
 "data":{"name":"S"},
 "bounds":"flush",
 "facet":{"column":{"field":"v","type":"ordinal","header":null}},
 "spacing":14.4,
 "spec":{"width":79,"height":133,
  "encoding":{
   "x":{"type":"quantitative","scale":{"domain":[-4,104],"nice":false,"zero":false},"axis":null},
   "y":{"type":"quantitative","scale":{"domain":[-60,1580],"nice":false,"zero":false},"axis":{"title":"severe","values":[0,500,1000,1500],"format":"d","labelAngle":-90,"labelAlign":"center","labelBaseline":"bottom","labelPadding":8,"titlePadding":4}}
  },
  "layer":[
   {"transform":[{"filter":"isValid(datum.y)"}],
    "mark":{"type":"point","shape":"circle","filled":false,"size":50,"strokeWidth":1.5,"opacity":1},
    "encoding":{
     "x":{"field":"x","type":"quantitative"},
     "y":{"field":"y","type":"quantitative"},
     "color":{"field":"e","type":"nominal"}
    }},
   {"transform":[{"filter":"isValid(datum.t)"}],
    "mark":{"type":"text","align":"left","baseline":"top","dx":2,"dy":1,"fontSize":14,"color":"black"},
    "encoding":{
     "x":{"datum":-4,"type":"quantitative"},
     "y":{"datum":1580,"type":"quantitative"},
     "text":{"field":"t"}
    }}
  ]}
}
]},
{"spacing":12,"vconcat":[
{
 "data":{"name":"D"},
 "bounds":"flush",
 "facet":{"column":{"field":"v","type":"ordinal","header":null}},
 "spacing":14.4,
 "spec":{"width":79,"height":133,
  "encoding":{
   "x":{"type":"quantitative","scale":{"domain":[-4,104],"nice":false,"zero":false},"axis":null},
   "y":{"type":"quantitative","scale":{"domain":[-170,4290],"nice":false,"zero":false},"axis":{"title":"all deaths","values":[0,1000,2000,3000,4000],"format":"d","labelExpr":"datum.value==0||datum.value==1000||datum.value==3000 ? datum.label : ''","labelAngle":-90,"labelAlign":"center","labelBaseline":"bottom","labelPadding":8,"titlePadding":4}}
  },
  "layer":[
   {"transform":[{"filter":"isValid(datum.y)"}],
    "mark":{"type":"point","shape":"circle","filled":false,"size":50,"strokeWidth":1.5,"opacity":1},
    "encoding":{
     "x":{"field":"x","type":"quantitative"},
     "y":{"field":"y","type":"quantitative"},
     "color":{"field":"e","type":"nominal"}
    }},
   {"transform":[{"filter":"isValid(datum.t)"}],
    "mark":{"type":"text","align":"left","baseline":"top","dx":2,"dy":1,"fontSize":14,"color":"black"},
    "encoding":{
     "x":{"datum":-4,"type":"quantitative"},
     "y":{"datum":4290,"type":"quantitative"},
     "text":{"field":"t"}
    }}
  ]}
},
{
 "data":{"name":"L"},
 "bounds":"flush",
 "facet":{"column":{"field":"v","type":"ordinal","header":{"title":"mass coverage (%)","titleOrient":"bottom","labels":false,"titleFontSize":19,"titleFontWeight":"normal","titlePadding":2}}},
 "spacing":14.4,
 "spec":{"width":79,"height":133,
  "encoding":{
   "x":{"type":"quantitative","scale":{"domain":[-4,104],"nice":false,"zero":false},"axis":{"title":null,"values":[0,10,20,30,40,50,60,70,80,90,100],"labelExpr":"datum.value % 40 == 0 ? datum.label : ''","labelFontSize":12.5,"labelPadding":3,"offset":1}},
   "y":{"type":"quantitative","scale":{"domain":[-5,129],"nice":false,"zero":false},"axis":{"title":"DALYs","values":[0,20,40,60,80,100,120],"format":"d","labelExpr":"datum.value % 40 == 0 ? datum.label : ''","labelAngle":-90,"labelAlign":"center","labelBaseline":"bottom","labelPadding":8,"titlePadding":4}}
  },
  "layer":[
   {"transform":[{"filter":"isValid(datum.y)"}],
    "mark":{"type":"point","shape":"circle","filled":false,"size":50,"strokeWidth":1.5,"opacity":1},
    "encoding":{
     "x":{"field":"x","type":"quantitative"},
     "y":{"field":"y","type":"quantitative"},
     "color":{"field":"e","type":"nominal"}
    }},
   {"transform":[{"filter":"isValid(datum.t)"}],
    "mark":{"type":"text","align":"left","baseline":"top","dx":2,"dy":1,"fontSize":14,"color":"black"},
    "encoding":{
     "x":{"datum":-4,"type":"quantitative"},
     "y":{"datum":129,"type":"quantitative"},
     "text":{"field":"t"}
    }}
  ]}
}
]}
],
"resolve":{"scale":{"color":"shared"}}
}
